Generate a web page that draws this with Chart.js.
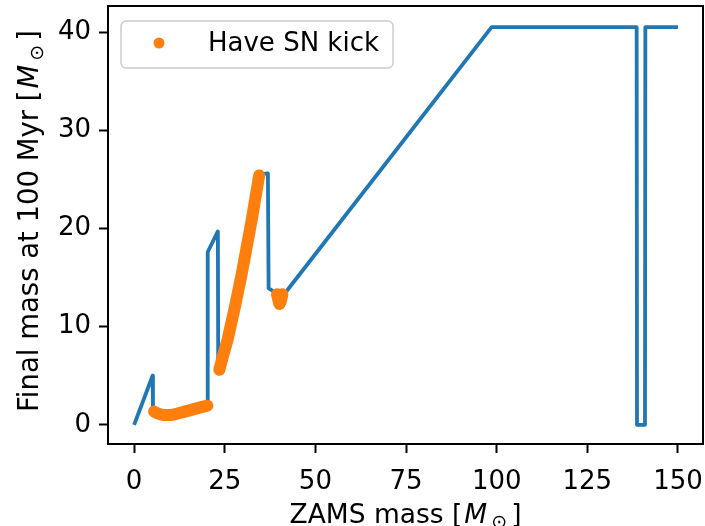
<!DOCTYPE html>
<html>
<head>
<meta charset="utf-8">
<script src="https://cdn.jsdelivr.net/npm/chart.js@4.4.1/dist/chart.umd.min.js"></script>
<style>
  html, body { margin: 0; padding: 0; background: #fff; }
  canvas { display: block; }
</style>
</head>
<body>
<canvas id="mass-chart" width="705" height="526"></canvas>
<script>
// final mass at 100 Myr against ZAMS mass, every model
var zamsMass = [0, 5.1, 5.2, 6.5, 8, 10, 12, 14, 16, 18,
    20.2, 20.3, 23.1, 23.2, 24.5, 25.8, 27.8, 29.7, 31.5, 32.5,
    33.5, 34.5, 36.9, 37.1, 38.5, 39.3, 40.0, 40.7, 41.6, 98.6,
    138.6, 138.7, 140.9, 141.0, 150];
var finalMass = [0, 5.0, 1.4, 1.15, 1.0, 1.0, 1.15, 1.35, 1.55, 1.75,
    2.0, 17.6, 19.7, 5.6, 7.0, 8.7, 12.0, 15.4, 19.0, 21.0,
    23.2, 25.5, 25.6, 13.9, 13.6, 13.2, 12.4, 13.0, 13.4, 40.5,
    40.5, 0, 0, 40.5, 40.5];

// models that get a supernova kick (null splits the runs)
var kickZams = [5.5, 6.5, 8, 10, 12, 14, 16, 18, 20.2, null,
    23.5, 24.5, 25.8, 27.8, 29.7, 31.5, 32.5, 33.5, 34.5, null,
    39.4, 39.8, 40.1, 40.5, 40.9];
var kickFinal = [1.35, 1.15, 1.0, 1.0, 1.15, 1.35, 1.55, 1.75, 1.95, null,
    5.6, 7.0, 8.7, 12.0, 15.4, 19.0, 21.0, 23.2, 25.4, null,
    13.3, 12.7, 12.3, 12.6, 13.3];

var xTicks = [0, 25, 50, 75, 100, 125, 150];
var yTicks = [0, 10, 20, 30, 40];

var BLUE = '#1f77b4';
var ORANGE = '#ff7f0e';
var FONT = 'DejaVu Sans';

function toPoints(xs, ys) {
    return xs.map(function (x, i) {
        return { x: x === null ? NaN : x, y: ys[i] };
    });
}

// black box round the plot area
var frame = {
    id: 'frame',
    afterDraw: function (chart) {
        var a = chart.chartArea, c = chart.ctx;
        c.save();
        c.strokeStyle = '#000';
        c.lineWidth = 2;
        c.strokeRect(a.left, a.top, a.right - a.left, a.bottom - a.top);
        c.restore();
    }
};

function roundRect(c, x, y, w, h, r) {
    c.beginPath();
    c.moveTo(x + r, y);
    c.lineTo(x + w - r, y);
    c.arcTo(x + w, y, x + w, y + r, r);
    c.lineTo(x + w, y + h - r);
    c.arcTo(x + w, y + h, x + w - r, y + h, r);
    c.lineTo(x + r, y + h);
    c.arcTo(x, y + h, x, y + h - r, r);
    c.lineTo(x, y + r);
    c.arcTo(x, y, x + r, y, r);
    c.closePath();
}

// legend inside the axes, upper left
var legendBox = {
    id: 'legendBox',
    afterDatasetsDraw: function (chart) {
        var c = chart.ctx;
        var ds = chart.data.datasets[0];
        c.save();
        roundRect(c, 121, 21, 272, 47, 5);
        c.fillStyle = 'rgba(255,255,255,0.8)';
        c.fill();
        c.strokeStyle = '#cccccc';
        c.lineWidth = 1.5;
        c.stroke();
        c.beginPath();
        c.arc(159, 43, 5.5, 0, Math.PI * 2);
        c.fillStyle = ds.borderColor;
        c.fill();
        c.fillStyle = '#000';
        c.font = '26px "' + FONT + '"';
        c.textBaseline = 'middle';
        c.fillText(ds.label, 208, 44);
        c.restore();
    }
};

// label text with an italic M and a small sun symbol below it
function labelParts(text, size) {
    var f = size + 'px "' + FONT + '"';
    return [
        { t: text + ' [', f: f, dy: 0, gap: 2 },
        { t: 'M', f: 'italic ' + f, dy: 0, gap: 4 },
        { t: '\u2299', f: Math.round(size * 0.7) + 'px "' + FONT + '"', dy: 5, gap: 4 },
        { t: ']', f: f, dy: 0, gap: 0 }
    ];
}

function drawParts(c, parts) {
    var total = 0;
    parts.forEach(function (p) {
        c.font = p.f;
        p.w = c.measureText(p.t).width;
        total += p.w + p.gap;
    });
    var x = -total / 2;
    parts.forEach(function (p) {
        c.font = p.f;
        c.fillText(p.t, x, p.dy);
        x += p.w + p.gap;
    });
}

var axisTitles = {
    id: 'axisTitles',
    afterDraw: function (chart) {
        var a = chart.chartArea, c = chart.ctx;
        c.save();
        c.fillStyle = '#000';
        c.textBaseline = 'alphabetic';
        c.translate((a.left + a.right) / 2, 523);
        drawParts(c, labelParts('ZAMS mass', 26.5));
        c.restore();

        c.save();
        c.fillStyle = '#000';
        c.textBaseline = 'alphabetic';
        c.translate(38, (a.top + a.bottom) / 2 - 4);
        c.rotate(-Math.PI / 2);
        drawParts(c, labelParts('Final mass at 100 Myr', 27.5));
        c.restore();
    }
};

function noPadding(s) {
    s.paddingTop = 0;
    s.paddingBottom = 0;
    s.paddingLeft = 0;
    s.paddingRight = 0;
}

var tickFont = { family: FONT, size: 26 };

new Chart(document.getElementById('mass-chart'), {
    type: 'scatter',
    data: {
        datasets: [{
            label: 'Have SN kick',
            data: toPoints(kickZams, kickFinal),
            showLine: true,
            spanGaps: false,
            borderColor: ORANGE,
            backgroundColor: ORANGE,
            borderWidth: 12,
            borderCapStyle: 'round',
            borderJoinStyle: 'round',
            pointRadius: 0,
            order: 0
        }, {
            label: 'All models',
            data: toPoints(zamsMass, finalMass),
            showLine: true,
            borderColor: BLUE,
            borderWidth: 3.8,
            borderJoinStyle: 'round',
            pointRadius: 0,
            order: 1
        }]
    },
    options: {
        responsive: false,
        animation: false,
        devicePixelRatio: 1,
        layout: { padding: { top: 6, right: 2, left: 0, bottom: 0 } },
        plugins: {
            legend: { display: false },
            tooltip: { enabled: false }
        },
        scales: {
            x: {
                type: 'linear',
                min: -7.2,
                max: 156.9,
                afterFit: function (s) { s.height = 82; noPadding(s); },
                afterBuildTicks: function (s) {
                    s.ticks = xTicks.map(function (v) { return { value: v }; });
                },
                ticks: { font: tickFont, color: '#000', padding: 14, maxRotation: 0 },
                grid: { drawOnChartArea: false, tickLength: 9, tickWidth: 2, tickColor: '#000' },
                border: { display: false }
            },
            y: {
                type: 'linear',
                min: -1.95,
                max: 42.65,
                afterFit: function (s) { s.width = 108; noPadding(s); },
                afterBuildTicks: function (s) {
                    s.ticks = yTicks.map(function (v) { return { value: v }; });
                },
                ticks: { font: tickFont, color: '#000', padding: 8 },
                grid: { drawOnChartArea: false, tickLength: 9, tickWidth: 2, tickColor: '#000' },
                border: { display: false }
            }
        }
    },
    plugins: [legendBox, frame, axisTitles]
});
</script>
</body>
</html>
